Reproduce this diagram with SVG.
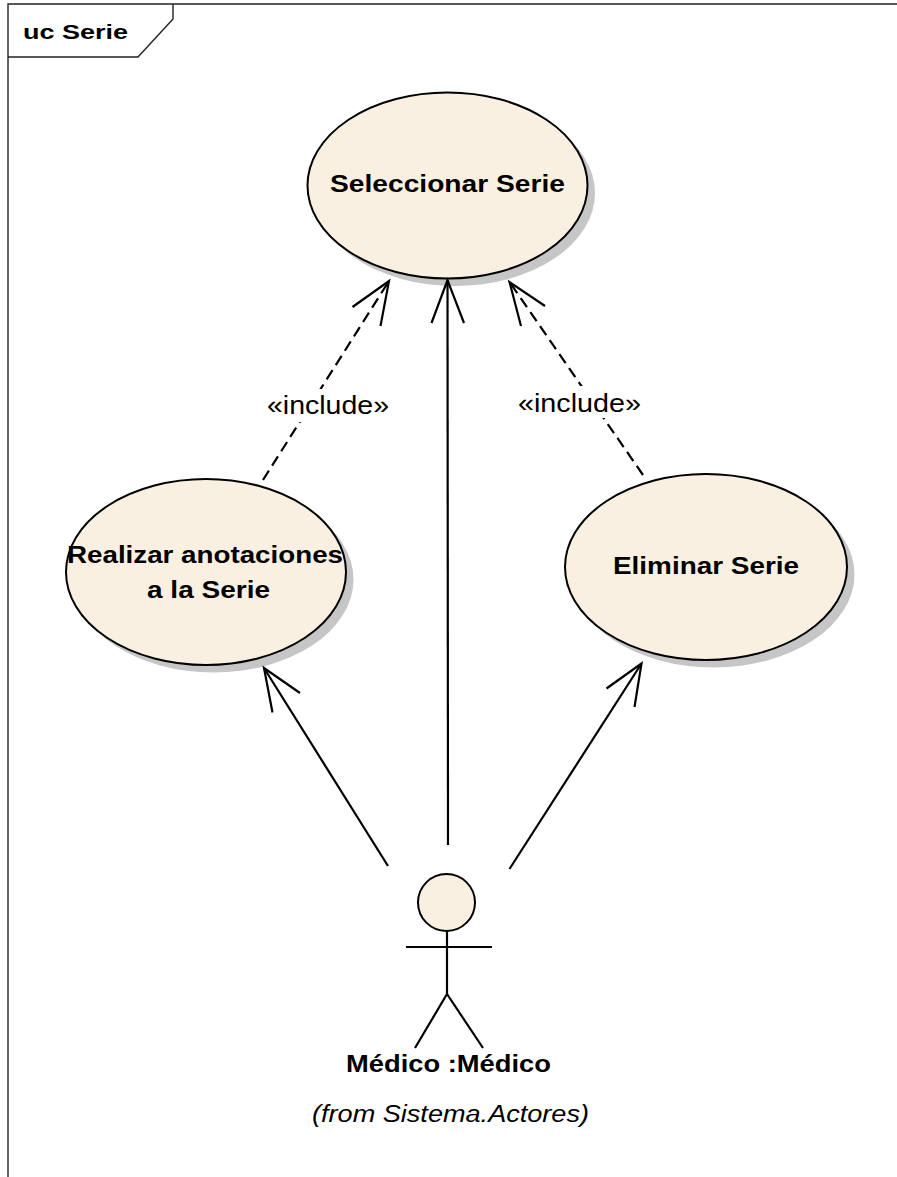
<svg xmlns="http://www.w3.org/2000/svg" width="897" height="1177" viewBox="0 0 897 1177">
  <style>
    .frame { fill: none; stroke: #222; stroke-width: 1.4; }
    .uc { fill: #FAF0E2; stroke: #000; stroke-width: 2; }
    .shadow { fill: #C6C6C6; stroke: none; }
    .bold { font-family: "Liberation Sans", Arial, sans-serif; font-weight: bold; fill: #000; }
    .reg { font-family: "Liberation Sans", Arial, sans-serif; fill: #000; }
    .line { fill: none; stroke: #000; stroke-width: 2.2; }
    .dash { fill: none; stroke: #000; stroke-width: 2.2; stroke-dasharray: 11 6; }
    .head { fill: none; stroke: #000; stroke-width: 2.2; stroke-linejoin: miter; }
    .labelbg { fill: #fff; stroke: none; }
  </style>

  <rect x="0" y="0" width="897" height="1177" fill="#fff"/>

  <!-- diagram frame with name tab -->
  <g id="frame">
    <path class="frame" d="M8,1177 V4 H897"/>
    <path class="frame" d="M173,4 V19 L138,57 H8"/>
    <text class="bold" x="23" y="39" font-size="21" textLength="105" lengthAdjust="spacingAndGlyphs">uc Serie</text>
  </g>

  <!-- use cases -->
  <g id="uc-seleccionar">
    <ellipse class="shadow" cx="455" cy="193" rx="140" ry="93"/>
    <ellipse class="uc" cx="447.5" cy="185.5" rx="140" ry="93"/>
    <text class="bold" x="330" y="192" font-size="24" textLength="235" lengthAdjust="spacingAndGlyphs">Seleccionar Serie</text>
  </g>

  <g id="uc-realizar">
    <ellipse class="shadow" cx="213.5" cy="579.5" rx="140" ry="93"/>
    <ellipse class="uc" cx="206" cy="572" rx="140" ry="93"/>
    <text class="bold" x="67" y="563" font-size="24" textLength="276" lengthAdjust="spacingAndGlyphs">Realizar anotaciones</text>
    <text class="bold" x="147" y="598" font-size="24" textLength="123" lengthAdjust="spacingAndGlyphs">a la Serie</text>
  </g>

  <g id="uc-eliminar">
    <ellipse class="shadow" cx="713.5" cy="574.5" rx="141" ry="93"/>
    <ellipse class="uc" cx="706" cy="567" rx="141" ry="93"/>
    <text class="bold" x="613" y="574" font-size="24" textLength="186" lengthAdjust="spacingAndGlyphs">Eliminar Serie</text>
  </g>

  <!-- connectors -->
  <g id="connectors">
    <!-- actor associations -->
    <line class="line" x1="448" y1="845" x2="447.5" y2="280"/>
    <polyline class="head" points="431.5,323 447.5,280 464,323"/>

    <line class="line" x1="388" y1="866" x2="264" y2="668"/>
    <polyline class="head" points="272.5,712.5 264,668 300,693"/>

    <line class="line" x1="509.5" y1="869" x2="641.5" y2="663.5"/>
    <polyline class="head" points="606.5,688.5 641.5,663.5 634.5,707"/>

    <!-- include dependencies -->
    <line class="dash" x1="263" y1="480" x2="389" y2="281"/>
    <polyline class="head" points="352.5,307 389,281 380.5,326"/>
    <rect class="labelbg" x="266" y="389" width="124" height="33"/>
    <text class="reg" x="267" y="414" font-size="25" textLength="122" lengthAdjust="spacingAndGlyphs">«include»</text>

    <line class="dash" x1="643" y1="475" x2="509.5" y2="282"/>
    <polyline class="head" points="545,306 509.5,282 521,326"/>
    <rect class="labelbg" x="517" y="386" width="125" height="32"/>
    <text class="reg" x="518" y="412" font-size="25" textLength="123" lengthAdjust="spacingAndGlyphs">«include»</text>
  </g>

  <!-- actor -->
  <g id="actor-medico">
    <circle class="uc" cx="446.5" cy="902.5" r="28.5"/>
    <line class="line" x1="447" y1="931" x2="447" y2="994"/>
    <line class="line" x1="406" y1="947" x2="492" y2="947"/>
    <polyline class="line" points="415,1048 447,994 483,1048"/>
    <text class="bold" x="346" y="1072" font-size="24" textLength="205" lengthAdjust="spacingAndGlyphs">Médico :Médico</text>
    <text class="reg" x="312" y="1122" font-size="23" font-style="italic" textLength="277" lengthAdjust="spacingAndGlyphs">(from Sistema.Actores)</text>
  </g>
</svg>
